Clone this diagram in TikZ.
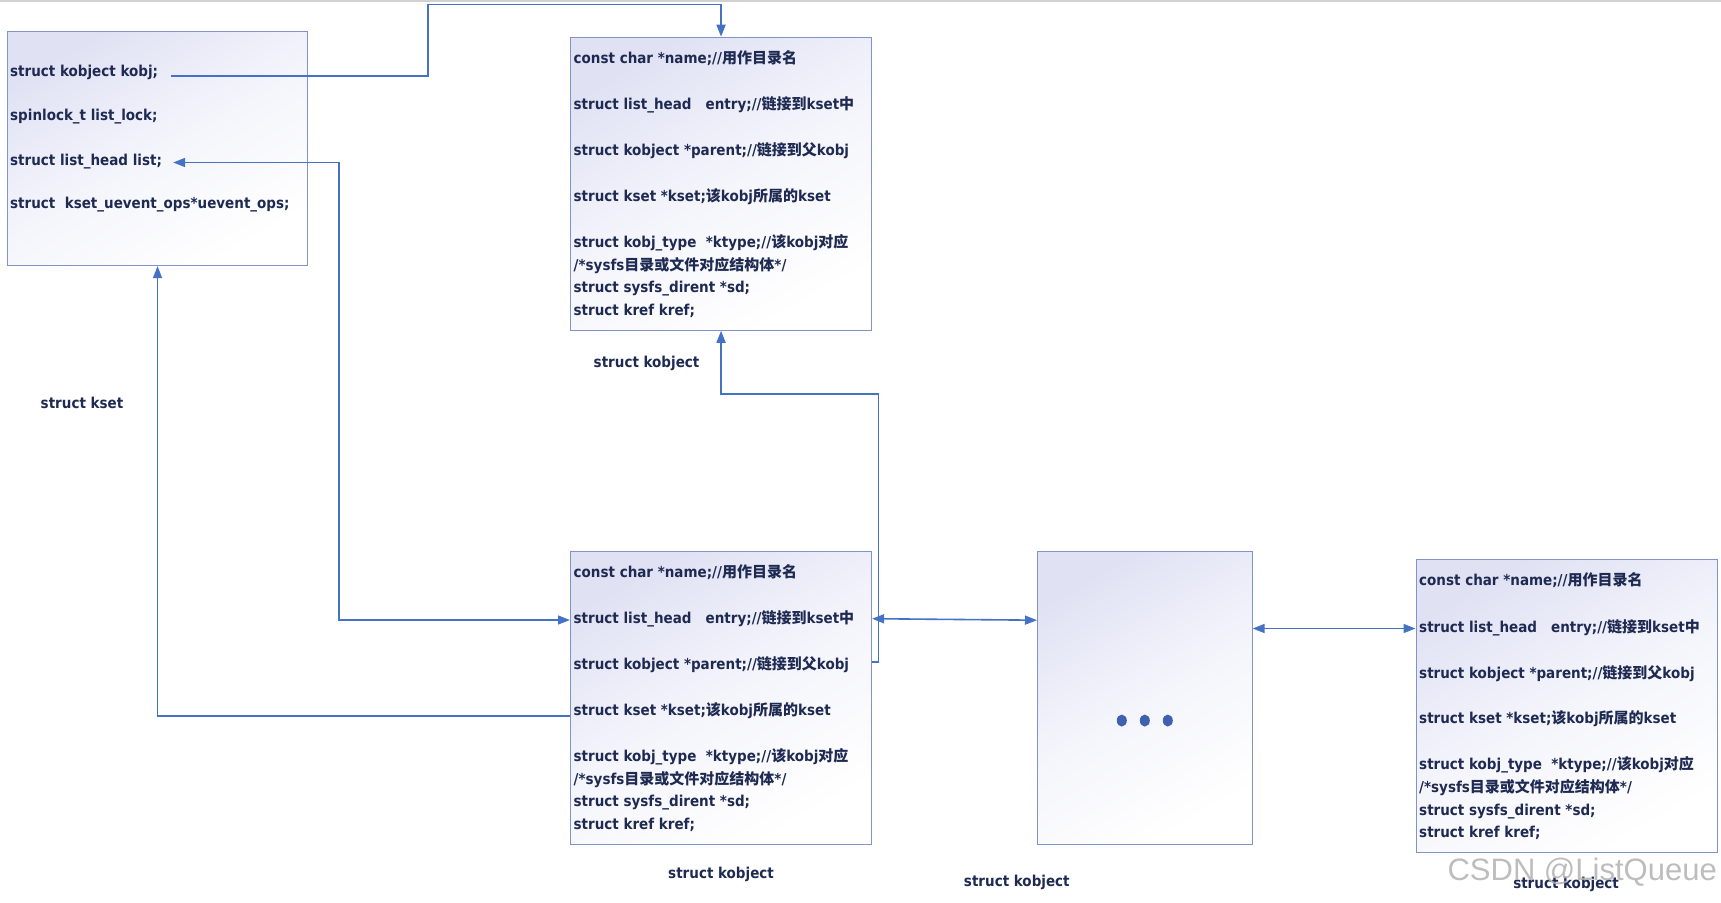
\documentclass[tikz,border=0pt]{standalone}
\usepackage{fontspec}
\setmainfont{DejaVu Sans Condensed}
\newfontfamily\cjk{Noto Sans CJK SC}
\newfontfamily\markfont{Liberation Sans}
\usetikzlibrary{arrows.meta, positioning, calc}

\definecolor{boxline}{RGB}{128,148,200}
\definecolor{boxtint}{RGB}{224,226,244}
\definecolor{linkblue}{RGB}{68,114,196}
\definecolor{txtnavy}{RGB}{30,42,82}
\definecolor{dotblue}{RGB}{62,98,176}

\tikzset{
  objbox/.style={draw=boxline, line width=1.1pt, top color=boxtint, bottom color=white,
    middle color=white!65!boxtint, shading angle=30, anchor=north west, inner sep=0pt},
  field/.style={anchor=west, inner sep=0pt, text height=12pt, text depth=2pt, text=txtnavy,
    font=\bfseries\fontsize{15pt}{23pt}\selectfont},
  lbl/.style={field, anchor=center},
  link/.style={draw=linkblue, line width=1.6pt, >={Triangle[length=12pt,width=9pt]}},
}

% one struct kobject: box plus its eight member lines
\newcommand{\kobjbox}[3]{%
  \node[objbox, minimum width=301pt, minimum height=293pt] (#1) at (#2,#3) {};
  \node[field] (#1-name)   at ([shift={(3.5,21.5)}]#1.north west)  {const char *name;//{\cjk 用作目录名}};
  \node[field] (#1-entry)  at ([shift={(3.5,68)}]#1.north west)    {struct list\_head\ \ \ entry;//{\cjk 链接到}kset{\cjk 中}};
  \node[field] (#1-parent) at ([shift={(3.5,114)}]#1.north west)   {struct kobject *parent;//{\cjk 链接到父}kobj};
  \node[field] (#1-kset)   at ([shift={(3.5,159.3)}]#1.north west) {struct kset *kset;{\cjk 该}kobj{\cjk 所属的}kset};
  \node[field] (#1-ktype)  at ([shift={(3.5,205.5)}]#1.north west) {struct kobj\_type\ \ *ktype;//{\cjk 该}kobj{\cjk 对应}};
  \node[field] (#1-sysfs)  at ([shift={(3.5,228.5)}]#1.north west) {/*sysfs{\cjk 目录或文件对应结构体}*/};
  \node[field] (#1-sd)     at ([shift={(3.5,251)}]#1.north west)   {struct sysfs\_dirent *sd;};
  \node[field] (#1-kref)   at ([shift={(3.5,273.5)}]#1.north west) {struct kref kref;};
}

\begin{document}
\begin{tikzpicture}[x=1pt, y=-1pt]
  \useasboundingbox (0,0) rectangle (1721,902);
  \fill[black!18] (0,0) rectangle (1721,1.5);

  % struct kset
  \node[objbox, minimum width=300.6pt, minimum height=234pt] (kset) at (6.7,31) {};
  \node[field] (kset-kobj) at ([shift={(3.3,40.7)}]kset.north west)  {struct kobject kobj;};
  \node[field] (kset-lock) at ([shift={(3.3,84)}]kset.north west)    {spinlock\_t list\_lock;};
  \node[field] (kset-list) at ([shift={(3.3,129)}]kset.north west)   {struct list\_head list;};
  \node[field] (kset-ops)  at ([shift={(3.3,172.3)}]kset.north west) {struct\ \ kset\_uevent\_ops*uevent\_ops;};
  \node[lbl] (kset-lbl) at (82,403) {struct kset};

  % the kobjects
  \kobjbox{top}{570}{36.7}
  \kobjbox{bot}{570}{550.7}
  \kobjbox{rgt}{1415.5}{559}
  \node[objbox, minimum width=214.5pt, minimum height=293pt] (mid) at (1037,551) {};
  \foreach \dx in {-23,0,23}
    \fill[dotblue] ($(mid.center)+(\dx,22.5)$) ellipse (5pt and 6pt);

  \node[lbl] (top-lbl) at ([shift={(-74.5,32)}]top.south) {struct kobject};
  \node[lbl] (bot-lbl) at ([shift={(0,29)}]bot.south)     {struct kobject};
  \node[lbl] (mid-lbl) at ([shift={(-128,36)}]mid.south)  {struct kobject};
  \node[lbl] (rgt-lbl) at ([shift={(-0.5,30)}]rgt.south)  {struct kobject};

  % bends
  \coordinate (kobj-bend) at (428,4.3);
  \coordinate (list-bend) at (339,620);
  \coordinate (par-bend)  at (878.3,394);

  % links
  \draw[link,->] ($(kset-kobj.east)+(13,4.3)$) -| (kobj-bend) -| (top.north);
  \draw[link,<->] ($(kset-list.east)+(11,2.5)$) -| (list-bend) -- (bot.west |- list-bend);
  \draw[link,->] ($(bot.west |- bot-kset.west)+(0,6)$) -| (kset.south);
  \draw[link,->] ($(bot.east |- bot-parent.west)+(0,-3)$) -| (par-bend) -| (top.south);
  \draw[link,<->] (bot.east |- bot-entry.west) -- ($(mid.west |- bot-entry.west)+(0,1.5)$);
  \draw[link,<->] ($(mid.east |- rgt-entry.west)+(0,1.5)$) -- ($(rgt.west |- rgt-entry.west)+(0,1.5)$);

  \node[anchor=east, inner sep=0pt, text=black!30, opacity=.85,
    font=\markfont\fontsize{31pt}{31pt}\selectfont] (mark) at (1717,872) {CSDN @ListQueue};
\end{tikzpicture}
\end{document}
